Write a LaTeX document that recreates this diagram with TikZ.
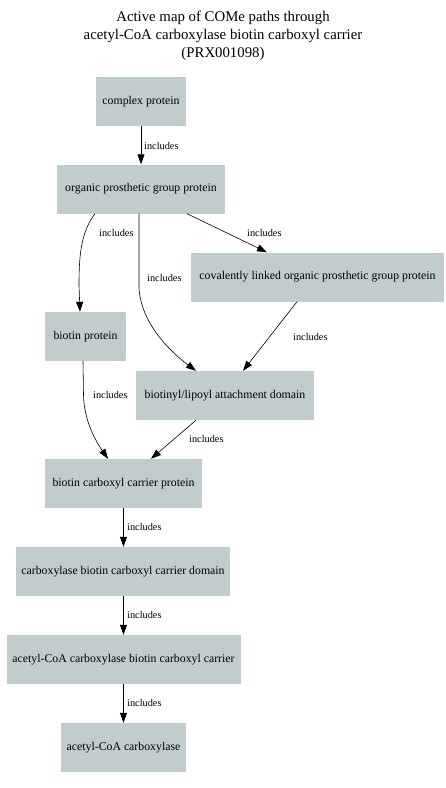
\documentclass[tikz,border=0pt]{standalone}
\usepackage{fontspec}
\setmainfont{Liberation Serif}
\usetikzlibrary{arrows.meta}
\definecolor{boxfill}{RGB}{193,205,205}
\tikzset{
  box/.style={fill=boxfill, draw=none, inner sep=0pt, font=\fontsize{11.8}{13}\selectfont, minimum height=49pt},
  arr/.style={draw=black, line width=0.6pt, -{Triangle[length=10pt,width=7pt]}},
  lab/.style={anchor=west, inner sep=0pt, font=\fontsize{10.3}{11}\selectfont},
  ttl/.style={inner sep=0pt, font=\fontsize{14.8}{18}\selectfont, align=center}
}
\begin{document}
\begin{tikzpicture}[x=1pt,y=-1pt]
\useasboundingbox (0,0) rectangle (446,788);
\node[ttl] (title) at (223,36) {Active map of COMe paths through\\acetyl-CoA carboxylase biotin carboxyl carrier\\(PRX001098)};
\node[box, minimum width=90pt] (cp) at (141,101.5) {complex protein};
\node[box, minimum width=168pt] (org) at (141,189) {organic prosthetic group protein};
\node[box, minimum width=253pt] (cov) at (317.5,277) {covalently linked organic prosthetic group protein};
\node[box, minimum width=81pt] (bp) at (85.5,336.5) {biotin protein};
\node[box, minimum width=178pt] (bl) at (225,395.5) {biotinyl/lipoyl attachment domain};
\node[box, minimum width=157pt] (bccp) at (123.5,483.5) {biotin carboxyl carrier protein};
\node[box, minimum width=214pt] (cbd) at (123,571.5) {carboxylase biotin carboxyl carrier domain};
\node[box, minimum width=234pt] (acc) at (123.5,659.5) {acetyl-CoA carboxylase biotin carboxyl carrier};
\node[box, minimum width=125pt] (ac) at (123.5,747.5) {acetyl-CoA carboxylase};

\draw[arr] (cp) -- (org);
\node[lab] (l1) at (144,146) {includes};

\draw[arr] ([xshift=-46pt]org.south) .. controls (81,232) and (79,255) .. (79,285) -- ([xshift=-5.5pt]bp.north);
\node[lab] (l2) at (99,233) {includes};

\draw[arr] ([xshift=-2pt]org.south) -- (139,288) .. controls (141,322) and (168,350) .. ([xshift=-29pt]bl.north);
\node[lab] (l3) at (147,278) {includes};

\draw[arr] ([xshift=46pt]org.south) -- ([xshift=-50.5pt]cov.north);
\node[lab] (l4) at (247,233) {includes};

\draw[arr] ([xshift=-20.5pt]cov.south) -- ([xshift=18pt]bl.north);
\node[lab] (l5) at (293,337) {includes};

\draw[arr] ([xshift=-2.5pt]bp.south) -- (83.5,395) .. controls (84,420) and (95,440) .. ([xshift=-15.5pt]bccp.north);
\node[lab] (l6) at (93,395) {includes};

\draw[arr] ([xshift=-29pt]bl.south) -- ([xshift=27.5pt]bccp.north);
\node[lab] (l7) at (189,439) {includes};

\draw[arr] (bccp.south) -- (bccp.south |- cbd.north);
\node[lab] (l8) at (127,527) {includes};

\draw[arr] (cbd.south -| acc.north) -- (acc.north);
\node[lab] (l9) at (127,615) {includes};

\draw[arr] (acc) -- (ac);
\node[lab] (l10) at (127,703) {includes};
\end{tikzpicture}
\end{document}
